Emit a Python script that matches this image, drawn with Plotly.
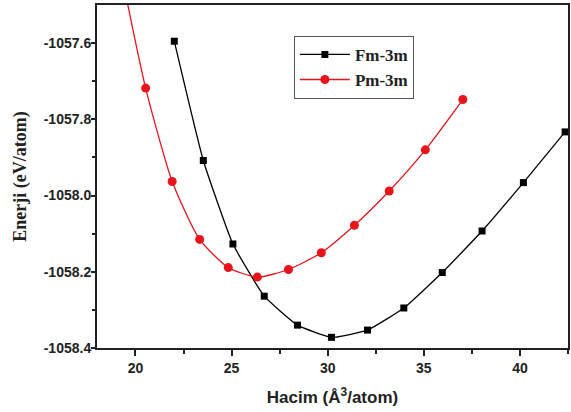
import plotly.graph_objects as go

fm_x = [22.02, 23.53, 25.07, 26.70, 28.43, 30.20, 32.07, 33.96, 35.96, 38.03, 40.18, 42.35]
fm_y = [-1057.595, -1057.908, -1058.127, -1058.264, -1058.340, -1058.372, -1058.353,
        -1058.295, -1058.202, -1058.093, -1057.966, -1057.833]

pm_x = [19.20, 20.53, 21.91, 23.34, 24.83, 26.34, 27.96, 29.67, 31.39, 33.20, 35.08, 37.03]
pm_y = [-1057.40, -1057.718, -1057.963, -1058.115, -1058.189, -1058.214, -1058.194,
        -1058.150, -1058.078, -1057.988, -1057.880, -1057.748]

x_ticks = [20, 25, 30, 35, 40]
y_ticks = [-1058.4, -1058.2, -1058.0, -1057.8, -1057.6]
y_labels = ["-1058.4", "-1058.2", "-1058.0", "-1057.8", "-1057.6"]

fig = go.Figure()
fig.add_trace(go.Scatter(
    x=fm_x, y=fm_y, name="<b>Fm-3m</b>", mode="lines+markers",
    line=dict(color="black", width=1.3, shape="spline", smoothing=0.4),
    marker=dict(symbol="square", size=7, color="black"),
))
fig.add_trace(go.Scatter(
    x=pm_x, y=pm_y, name="<b>Pm-3m</b>", mode="lines+markers",
    line=dict(color="#e8141b", width=1.3, shape="spline", smoothing=0.6),
    marker=dict(symbol="circle", size=9, color="#e8141b"),
))

fig.update_layout(
    width=571, height=412,
    margin=dict(l=97, r=1, t=5, b=64),
    paper_bgcolor="white", plot_bgcolor="white",
    font=dict(family="Liberation Sans, Arial", color="#222", size=14),
    legend=dict(
        x=0.418, y=0.91, xanchor="left", yanchor="top",
        bordercolor="#555", borderwidth=1, bgcolor="white",
        font=dict(family="Liberation Serif, Times New Roman", size=17, color="#222"),
        tracegroupgap=0, itemwidth=50,
    ),
    showlegend=True,
)
fig.update_xaxes(
    range=[18, 42.5], tickvals=x_ticks, ticktext=[f"<b>{v}</b>" for v in x_ticks],
    ticks="outside", ticklen=6, tickwidth=1.5, tickcolor="#222",
    minor=dict(tickvals=[22.5, 27.5, 32.5, 37.5, 42.5], ticks="outside", ticklen=4, tickwidth=1.5, tickcolor="#222"),
    showline=True, linecolor="#222", linewidth=2, mirror=True,
    showgrid=False, zeroline=False,
    tickfont=dict(family="Liberation Sans, Arial", size=14),
    title=dict(text="<b>Hacim (Å<sup>3</sup>/atom)</b>", font=dict(family="Liberation Sans, Arial", size=17), standoff=16),
)
fig.update_yaxes(
    range=[-1058.4, -1057.5], tickvals=y_ticks, ticktext=[f"<b>{t}</b>" for t in y_labels],
    ticks="outside", ticklen=4, tickwidth=1.5, tickcolor="#222",
    minor=dict(tickvals=[-1058.3, -1058.1, -1057.9, -1057.7], ticks="outside", ticklen=3, tickwidth=1.5, tickcolor="#222"),
    ticklabelstandoff=-3,
    showline=True, linecolor="#222", linewidth=2, mirror=True,
    showgrid=False, zeroline=False,
    tickfont=dict(family="Liberation Sans, Arial", size=14),
    title=dict(text="<b>Enerji (eV/atom)</b>", font=dict(family="Liberation Serif, Times New Roman", size=18), standoff=12),
)

fig.write_html("out.html")
